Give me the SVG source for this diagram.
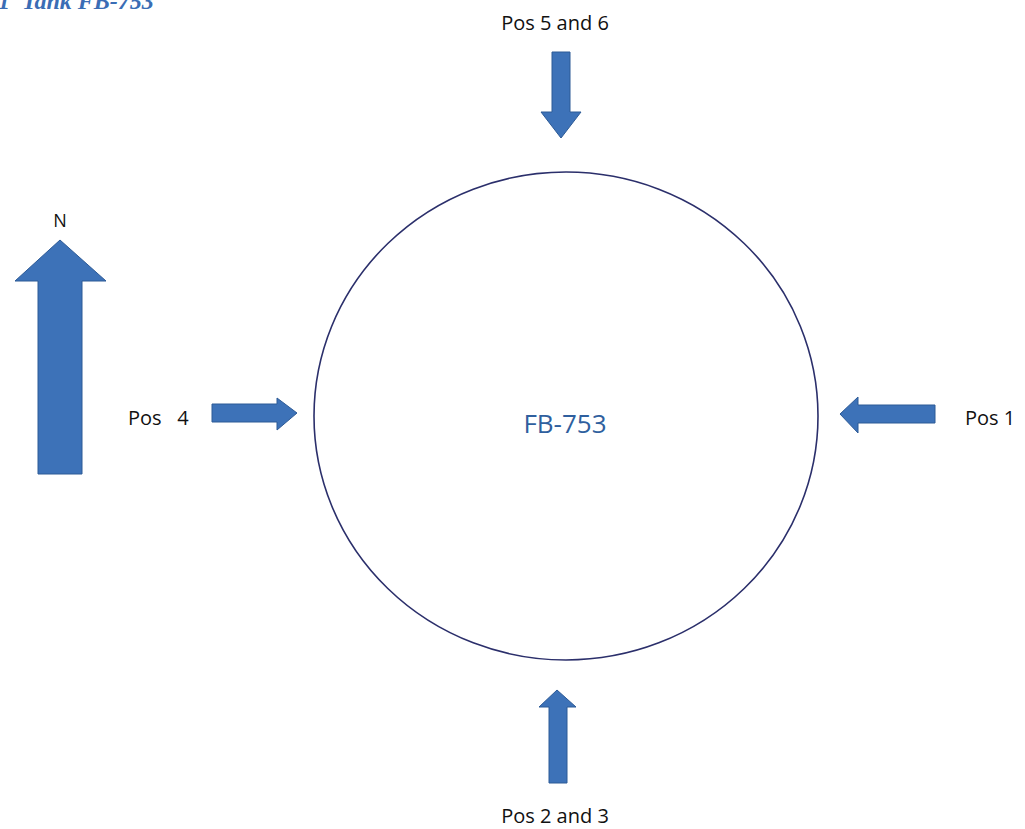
<svg xmlns="http://www.w3.org/2000/svg" width="1025" height="829" viewBox="0 0 1025 829">
<style>
.lbl{font-family:"Open Sans","Liberation Sans",sans-serif;font-size:20px;fill:#111}
.arr{fill:#3d72b8;stroke:#2d5a96;stroke-width:1}
</style>
<rect width="1025" height="829" fill="#fff"/>
<text x="-2" y="9" font-family="'Liberation Serif',serif" font-style="italic" font-weight="bold" font-size="24" fill="#3a6db5" xml:space="preserve">1  Tank FB-753</text>
<g id="tank">
<ellipse cx="566" cy="416" rx="252" ry="244" fill="none" stroke="#2b2f6b" stroke-width="1.6"/>
<text x="565" y="433" text-anchor="middle" font-family="'Open Sans','Liberation Sans',sans-serif" font-size="26" fill="#2f5f9e">FB-753</text>
</g>
<g id="north">
<text x="60" y="227" text-anchor="middle" class="lbl" style="font-size:18px">N</text>
<path class="arr" d="M60 240 L106 281 L82 281 L82 474 L38 474 L38 281 L15 281 Z"/>
</g>
<g id="pos56">
<text x="555" y="30" text-anchor="middle" class="lbl">Pos 5 and 6</text>
</g>
<g id="pos23">
<text x="555" y="823" text-anchor="middle" class="lbl">Pos 2 and 3</text>
</g>
<g id="pos4">
<text x="128" y="425" class="lbl" xml:space="preserve">Pos   4</text>
</g>
<g id="pos1">
<text x="965" y="425" class="lbl">Pos 1</text>
</g>
<g id="connectors">
<path class="arr" d="M561 138 L581 112 L570 112 L570 52 L552 52 L552 112 L541 112 Z"/>
<path class="arr" d="M557 690 L576 707 L567 707 L567 783 L549 783 L549 707 L539 707 Z"/>
<path class="arr" d="M297 413 L277 398 L277 404 L212 404 L212 422 L277 422 L277 430 Z"/>
<path class="arr" d="M840 414 L858 397 L858 405 L935 405 L935 423 L858 423 L858 433 Z"/>
</g>
</svg>
